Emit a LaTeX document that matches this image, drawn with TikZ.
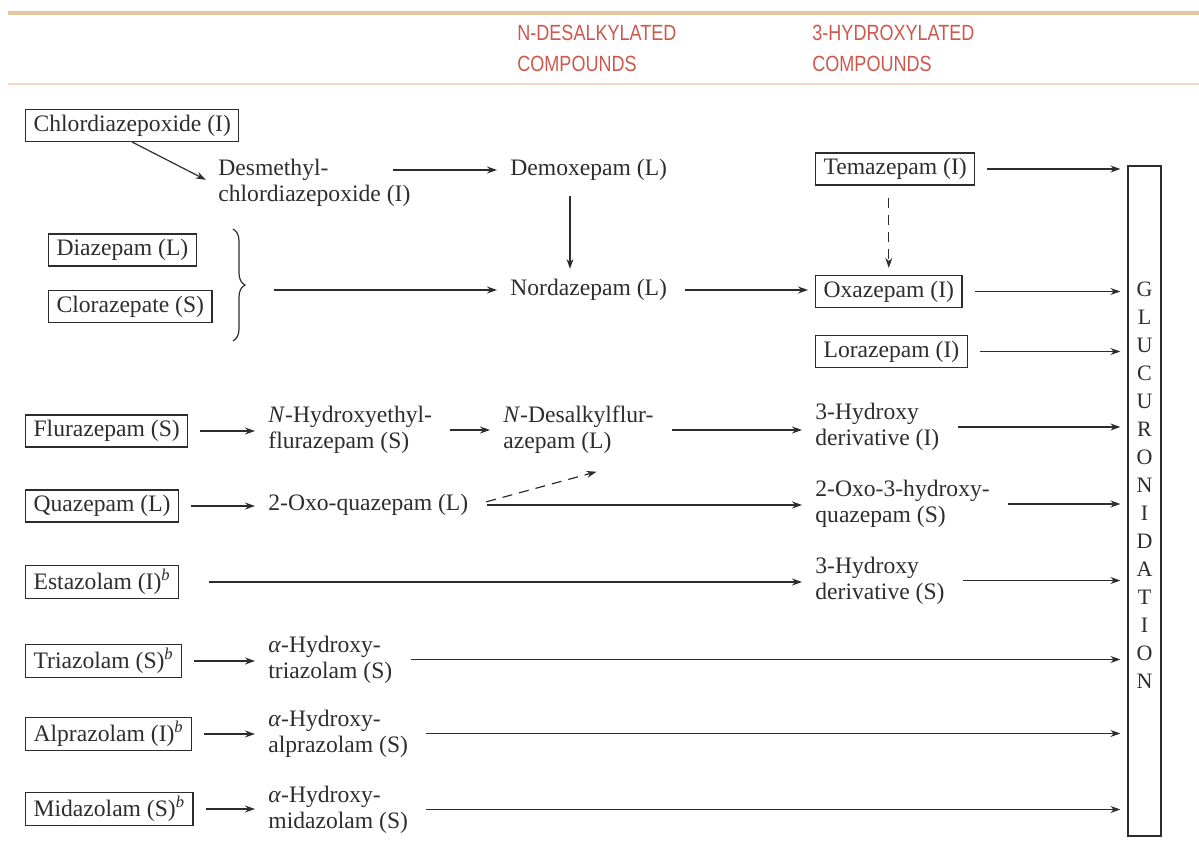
\documentclass[tikz,border=0pt]{standalone}
\usepackage{fontspec}
\setmainfont{Liberation Serif}
\newfontfamily\hdrfont[FakeStretch=0.82]{Liberation Sans}
\usepackage{tikz}
\usetikzlibrary{arrows.meta}
\usetikzlibrary{decorations.pathreplacing}
\usepackage{xcolor}

\definecolor{rulebrown}{RGB}{229,199,158}
\definecolor{rulepeach}{RGB}{249,214,198}
\definecolor{hdrred}{RGB}{204,88,76}
\definecolor{inkgray}{RGB}{45,45,45}

\begin{document}
\begin{tikzpicture}[x = 0.5pt, y = -0.5pt,
        every node/.style = {font=\fontsize{11.8}{13}\selectfont, text=inkgray},
        drug/.style = {draw=inkgray, line width=0.6pt, anchor=west, inner xsep=4pt, inner ysep=2pt, minimum height=16pt},
        metab/.style = {anchor=west, align=left, inner xsep=3pt, inner ysep=1.5pt},
        conn/.style = {draw=inkgray, line width=0.6pt, -{Stealth[length=5pt,width=3.5pt]}, shorten <=6pt, shorten >=3.5pt},
        dconn/.style = {conn, dash pattern=on 5pt off 3.5pt},
        hdr/.style = {anchor=west, align=left, inner sep=0pt, text=hdrred, font=\hdrfont\fontsize{11}{15.5}\selectfont},
        glubox/.style = {draw=inkgray, line width=0.6pt, minimum width=16.5pt, minimum height=335pt, inner sep=0pt}]

        \useasboundingbox (0,0) rectangle (1199,849);

        % header
        \draw[rulebrown, line width=2pt] (8,13) -- (1199,13);
        \draw[rulepeach, line width=1pt] (8,84) -- (1199,84);
        \node[hdr] (hdrdes) at (517,48) {N-DESALKYLATED\\COMPOUNDS};
        \node[hdr] (hdrhyd) at (812,48) {3-HYDROXYLATED\\COMPOUNDS};

        % parent drugs
        \node[drug] (chlor) at (25,125.5) {Chlordiazepoxide (I)};
        \node[drug] (diaz) at (48,250) {Diazepam (L)};
        \node[drug] (cloraz) at (48,306.5) {Clorazepate (S)};
        \node[drug] (tema) at (815,169) {Temazepam (I)};
        \node[drug] (oxa) at (815,291.5) {Oxazepam (I)};
        \node[drug] (lora) at (815,351.5) {Lorazepam (I)};
        \node[drug] (flur) at (25,431) {Flurazepam (S)};
        \node[drug] (quaz) at (25,506) {Quazepam (L)};
        \node[drug] (esta) at (25,582) {Estazolam (I)\textsuperscript{\textit{b}}};
        \node[drug] (tria) at (25,661) {Triazolam (S)\textsuperscript{\textit{b}}};
        \node[drug] (alpr) at (25,734) {Alprazolam (I)\textsuperscript{\textit{b}}};
        \node[drug] (mida) at (25,809) {Midazolam (S)\textsuperscript{\textit{b}}};

        % metabolites
        \node[metab] (desm) at (212,183) {Desmethyl-\\chlordiazepoxide (I)};
        \node[metab] (demox) at (504,170) {Demoxepam (L)};
        \node[metab] (nordaz) at (504,290) {Nordazepam (L)};
        \node[metab] (hydflur) at (262,430) {\textit{N}-Hydroxyethyl-\\flurazepam (S)};
        \node[metab] (ndes) at (497,430) {\textit{N}-Desalkylflur-\\azepam (L)};
        \node[metab] (hydi) at (809,427) {3-Hydroxy\\derivative (I)};
        \node[metab] (oxq) at (262,505) {2-Oxo-quazepam (L)};
        \node[metab] (oxhq) at (809,504) {2-Oxo-3-hydroxy-\\quazepam (S)};
        \node[metab] (hyds) at (809,580.5) {3-Hydroxy\\derivative (S)};
        \node[metab] (atria) at (262,659.5) {\textit{α}-Hydroxy-\\triazolam (S)};
        \node[metab] (aalpr) at (262,733.5) {\textit{α}-Hydroxy-\\alprazolam (S)};
        \node[metab] (amida) at (262,809.5) {\textit{α}-Hydroxy-\\midazolam (S)};

        % glucuronidation
        \node[glubox] (glu) at (1144.5,501) {};
        \node[font=\fontsize{11}{14}\selectfont, align=center, inner sep=0pt] (glutxt) at ([yshift=8pt]glu.center)
            {G\\L\\U\\C\\U\\R\\O\\N\\I\\D\\A\\T\\I\\O\\N};

        % brace
        \draw[inkgray, line width=0.6pt, decorate, decoration={brace, amplitude=6pt}] (233,229) -- (233,341);
        \coordinate (brk) at (262,290);

        % arrows
        \draw[conn, shorten <=0pt] (chlor.south) -- (desm.west);
        \draw[conn] ([xshift=-18pt]desm.east |- demox.west) -- (demox.west);
        \draw[conn] ([xshift=33pt]demox.south west) -- ([xshift=33pt]nordaz.north west);
        \draw[conn] (brk) -- (nordaz.west);
        \draw[conn] (nordaz.east) -- (nordaz.east -| oxa.west);
        \draw[dconn] (tema.south -| oxa.north) -- (oxa.north);

        \draw[conn] (flur.east) -- (flur.east -| hydflur.west);
        \draw[conn] (hydflur.east) -- (hydflur.east -| ndes.west);
        \draw[conn] (ndes.east) -- (ndes.east -| hydi.west);

        \draw[conn] (quaz.east) -- (quaz.east -| oxq.west);
        \draw[conn] (oxq.east) -- (oxq.east -| oxhq.west);
        \draw[dconn, shorten >=1pt] (oxq.east) -- ([xshift=10pt,yshift=-7pt]ndes.south);

        \draw[conn, shorten <=15pt] (esta.east) -- (esta.east -| hyds.west);
        \draw[conn] (tria.east) -- (tria.east -| atria.west);
        \draw[conn] (alpr.east) -- (alpr.east -| aalpr.west);
        \draw[conn] (mida.east) -- (mida.east -| amida.west);

        \draw[conn] (tema.east) -- (tema.east -| glu.west);
        \draw[conn] (oxa.east) -- (oxa.east -| glu.west);
        \draw[conn] (lora.east) -- (lora.east -| glu.west);
        \draw[conn] (hydi.east) -- (hydi.east -| glu.west);
        \draw[conn] (oxhq.east) -- (oxhq.east -| glu.west);
        \draw[conn] (hyds.east) -- (hyds.east -| glu.west);
        \draw[conn] (atria.east) -- (atria.east -| glu.west);
        \draw[conn] (aalpr.east) -- (aalpr.east -| glu.west);
        \draw[conn] (amida.east) -- (amida.east -| glu.west);
    \end{tikzpicture}
\end{document}
